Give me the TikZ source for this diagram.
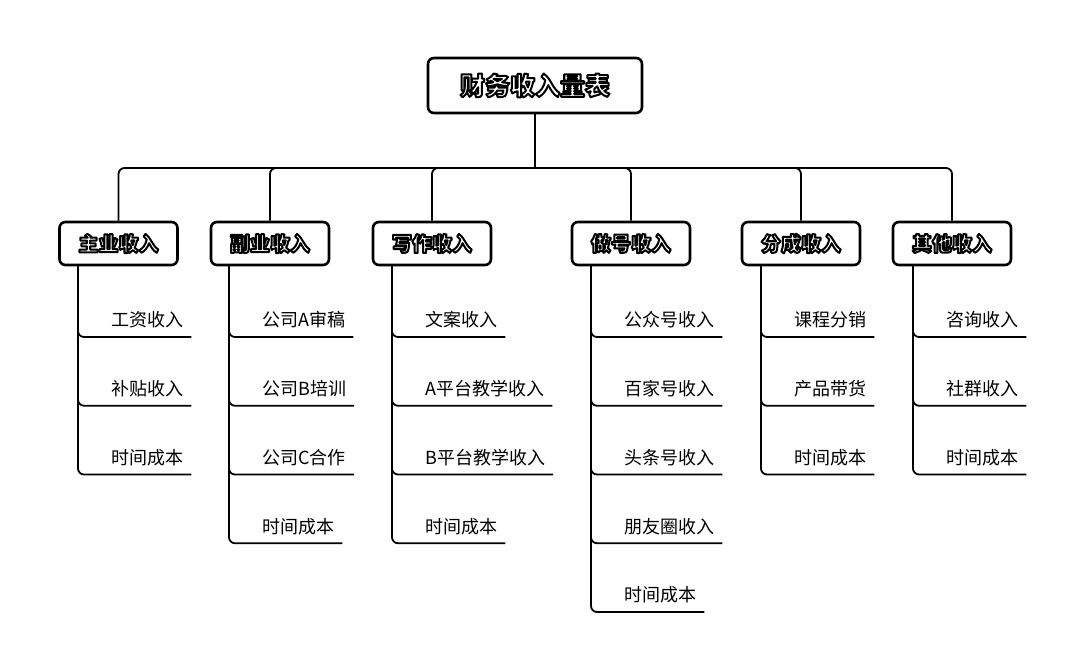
\documentclass[tikz,border=0pt]{standalone}
\usepackage{fontspec}
\newfontfamily\cjk{Noto Sans CJK SC}
\newfontfamily\cjkheavy{Noto Sans CJK SC Black}
\usetikzlibrary{%
    positioning,%
    calc%
}
\tikzset{
    rootbox/.style = {draw, line width = 2.6pt, rounded corners = 6pt, minimum width = 214pt, minimum height = 55pt, font = \cjkheavy\fontsize{25}{25}\selectfont},
    catbox/.style = {draw, line width = 2.6pt, rounded corners = 6pt, minimum width = 118pt, minimum height = 43pt, font = \cjkheavy\fontsize{20}{20}\selectfont},
    item/.style = {anchor = south west, inner xsep = 8pt, inner ysep = 6pt, text height = 14pt, text depth = 4pt, font = \cjk\fontsize{18}{18}\selectfont},
    link/.style = {line width = 1.8pt, rounded corners = 6pt}
}
% white letters with a black outline
\newcommand{\boxlabel}[1]{{\color{white}\special{pdf:code 0 G 2 w 1 j 2 Tr}#1\special{pdf:code 0 Tr}}}

\begin{document}
\begin{tikzpicture}[x = 1pt, y = -1pt]
    \useasboundingbox (0,0) rectangle (1080,670);
    % Define the root and the bus point
    \node[rootbox] (root) at (535,85.5) {\boxlabel{财务收入量表}};
    \coordinate (bus) at (535,168);

    % Define the categories
    \node[catbox] (zhu) at (118.5,243.5) {\boxlabel{主业收入}};
    \node[catbox] (fu)  at (270,243.5)   {\boxlabel{副业收入}};
    \node[catbox] (xie) at (432,243.5)   {\boxlabel{写作收入}};
    \node[catbox] (zuo) at (631,243.5)   {\boxlabel{做号收入}};
    \node[catbox] (fen) at (801,243.5)   {\boxlabel{分成收入}};
    \node[catbox] (qi)  at (952,243.5)   {\boxlabel{其他收入}};

    % Draw the bus
    \draw[link] (root.south) -- (bus);
    \foreach \c in {zhu,fu,xie,zuo,fen,qi}
        \draw[link] (bus) -| (\c.north);

    % Draw the items of every category
    \foreach \c/\tx/\lst in {%
        zhu/78/{工资收入,补贴收入,时间成本},%
        fu/229/{公司A审稿,公司B培训,公司C合作,时间成本},%
        xie/392/{文案收入,A平台教学收入,B平台教学收入,时间成本},%
        zuo/591/{公众号收入,百家号收入,头条号收入,朋友圈收入,时间成本},%
        fen/761/{课程分销,产品带货,时间成本},%
        qi/913/{咨询收入,社群收入,时间成本}%
    }{
        \foreach \t [count = \i] in \lst {
            \node[item] (\c-\i) at ({\tx+25},{337+68.75*(\i-1)}) {\t};
            \draw[link] (\c.south -| \tx,0) |- (\c-\i.south east);
        }
    }
\end{tikzpicture}
\end{document}
